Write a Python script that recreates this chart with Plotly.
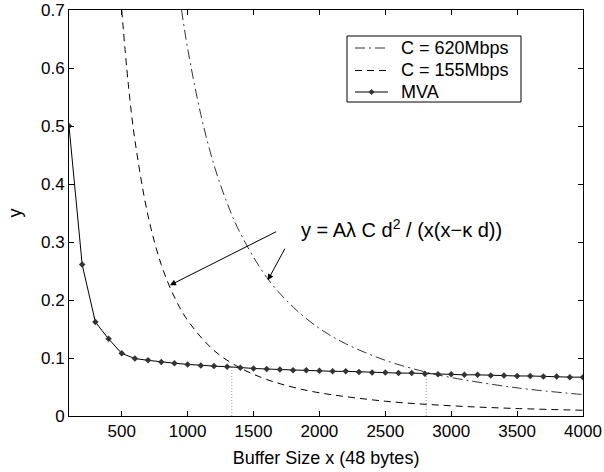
import plotly.graph_objects as go

# MVA series
mva_x = list(range(100, 4001, 100))
mva_y = [0.500, 0.261, 0.162, 0.133, 0.108, 0.099, 0.096, 0.093, 0.091, 0.089,
         0.087, 0.086, 0.085, 0.083, 0.082, 0.081, 0.080, 0.079, 0.079, 0.078,
         0.077, 0.077, 0.076, 0.075, 0.075, 0.074, 0.074, 0.073, 0.072, 0.072,
         0.071, 0.071, 0.070, 0.070, 0.069, 0.069, 0.068, 0.068, 0.067, 0.067]

# C = 155Mbps curve
c155_x = [500, 550, 600, 700, 800, 900, 1000, 1200, 1400, 1600, 1800, 2000, 2500, 3000, 3500, 4000]
c155_y = [0.700, 0.572, 0.476, 0.345, 0.261, 0.205, 0.165, 0.113, 0.0827, 0.063, 0.0496, 0.040,
          0.0255, 0.0176, 0.0129, 0.0099]

# C = 620Mbps curve
c620_x = [954, 1000, 1100, 1200, 1300, 1400, 1600, 1800, 2000, 2200, 2500, 2800, 3000, 3500, 4000]
c620_y = [0.700, 0.634, 0.520, 0.433, 0.367, 0.315, 0.239, 0.188, 0.151, 0.1245, 0.096, 0.0762,
          0.0663, 0.0485, 0.037]

# dotted crossing markers
cross_x = [1335, 2810]
cross_y = [0.085, 0.073]

x_ticks = [500, 1000, 1500, 2000, 2500, 3000, 3500, 4000]
y_ticks = [0, 0.1, 0.2, 0.3, 0.4, 0.5, 0.6, 0.7]
y_tick_text = ["0", "0.1", "0.2", "0.3", "0.4", "0.5", "0.6", "0.7"]

legend_names = ["C = 620Mbps", "C = 155Mbps", "MVA"]

FONT = "Liberation Sans, Arial, sans-serif"

W, H = 604, 472
ML, MR, MT, MB = 69, 21, 10, 56
PW, PH = W - ML - MR, H - MT - MB


def px(xp):
    return (xp - ML) / PW


def py(yp):
    return (H - MB - yp) / PH


DASH620 = "10px,4px,2px,4px"
DASH155 = "7px,5px"

fig = go.Figure()

for cx, cy in zip(cross_x, cross_y):
    fig.add_trace(go.Scatter(x=[cx, cx], y=[0, cy], mode="lines",
                             line=dict(color="#999999", width=1, dash="1px,2px"),
                             showlegend=False, hoverinfo="skip"))

fig.add_trace(go.Scatter(x=c620_x, y=c620_y, mode="lines", name=legend_names[0],
                         line=dict(color="#333333", width=1, dash=DASH620, shape="spline")))
fig.add_trace(go.Scatter(x=c155_x, y=c155_y, mode="lines", name=legend_names[1],
                         line=dict(color="black", width=1, dash=DASH155, shape="spline")))
fig.add_trace(go.Scatter(x=mva_x, y=mva_y, mode="lines+markers", name=legend_names[2],
                         line=dict(color="black", width=1),
                         marker=dict(symbol="diamond", size=5, color="#333333")))

# formula annotation + arrows
fig.add_annotation(x=2625, y=0.324, xref="x", yref="y",
                   text="y = Aλ C d<sup>2</sup> / (x(x−κ d))", showarrow=False,
                   font=dict(family=FONT, size=20, color="black"))
fig.add_annotation(x=866, y=0.2255, ax=1683, ay=0.319, xref="x", yref="y",
                   axref="x", ayref="y", text="", showarrow=True,
                   arrowhead=2, arrowsize=1.2, arrowwidth=1, arrowcolor="black")
fig.add_annotation(x=1608, y=0.234, ax=1744, ay=0.291, xref="x", yref="y",
                   axref="x", ayref="y", text="", showarrow=True,
                   arrowhead=2, arrowsize=1.2, arrowwidth=1, arrowcolor="black")

# hand-drawn legend box (matches compact MATLAB-style legend)
fig.add_shape(type="rect", xref="paper", yref="paper",
              x0=px(347), x1=px(521), y0=py(102), y1=py(36),
              line=dict(color="black", width=1), fillcolor="white", layer="above")
row_y = [48, 70.5, 92]
styles = [dict(color="#333333", width=1, dash=DASH620),
          dict(color="black", width=1, dash=DASH155),
          dict(color="black", width=1)]
for name, ry, st in zip(legend_names, row_y, styles):
    fig.add_shape(type="line", xref="paper", yref="paper",
                  x0=px(355), x1=px(388), y0=py(ry), y1=py(ry), line=st, layer="above")
    fig.add_annotation(x=px(399), y=py(ry), xref="paper", yref="paper",
                       xanchor="left", yanchor="middle", text=name, showarrow=False,
                       font=dict(family=FONT, size=18, color="black"))
# MVA marker in legend
mx, my, r = 371.5, row_y[2], 2.6
fig.add_shape(type="path", xref="paper", yref="paper",
              path=f"M {px(mx - r)},{py(my)} L {px(mx)},{py(my - r)} L {px(mx + r)},{py(my)} L {px(mx)},{py(my + r)} Z",
              fillcolor="#333333", line=dict(color="#333333", width=1), layer="above")

axis_common = dict(showgrid=False, zeroline=False, showline=True, linecolor="black",
                   linewidth=1, mirror="ticks", ticks="inside", ticklen=5,
                   tickcolor="black", automargin=False,
                   tickfont=dict(family=FONT, size=17, color="black"))

fig.update_xaxes(range=[100, 4000], tickvals=x_ticks,
                 title=dict(text="Buffer Size x (48 bytes)", font=dict(family=FONT, size=18, color="black"),
                            standoff=10),
                 **axis_common)
fig.update_yaxes(range=[0, 0.7], tickvals=y_ticks, ticktext=y_tick_text,
                 title=dict(text="y", font=dict(family=FONT, size=18, color="black"), standoff=14),
                 **axis_common)

fig.update_layout(
    width=W, height=H,
    margin=dict(l=ML, r=MR, t=MT, b=MB, autoexpand=False),
    paper_bgcolor="white", plot_bgcolor="white",
    font=dict(family=FONT, size=16, color="black"),
    showlegend=False,
)

fig.write_html("out.html", config={"displayModeBar": False},
               post_script="document.body.style.margin='0';")
